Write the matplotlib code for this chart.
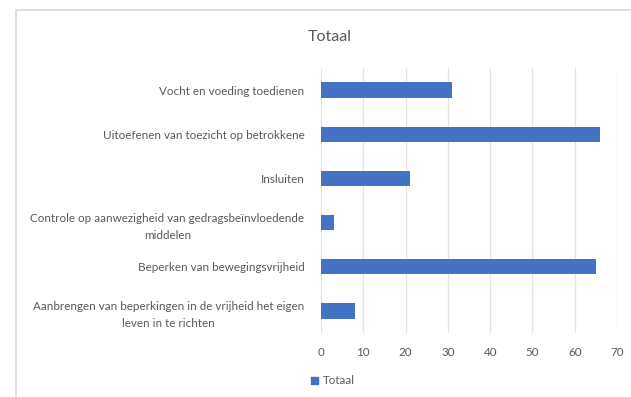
import numpy as np
import matplotlib.pyplot as plt
from matplotlib.patches import Rectangle, Patch

# data
categories = [
    "Vocht en voeding toedienen",
    "Uitoefenen van toezicht op betrokkene",
    "Insluiten",
    "Controle op aanwezigheid van gedragsbeïnvloedende\nmiddelen",
    "Beperken van bewegingsvrijheid",
    "Aanbrengen van beperkingen in de vrijheid het eigen\nleven in te richten",
]
values = [31, 66, 21, 3, 65, 8]
xticks = [0, 10, 20, 30, 40, 50, 60, 70]

plt.rcParams["font.family"] = ["Lato", "DejaVu Sans"]
txt = "#595959"
blue = "#4472C4"
grid = "#e3e3e3"

fig = plt.figure(figsize=(6.31, 3.97), dpi=100)

# chart-area frame (partly cut off at right/bottom)
fig.patches.append(Rectangle((16 / 631, -0.05), 1.2, 1 - 10 / 397 + 0.05,
                             transform=fig.transFigure, fill=False,
                             edgecolor="#d9d9d9", linewidth=1.2))

ax = fig.add_axes([321 / 631, 1 - 333 / 397, (617 - 321) / 631, (333 - 68) / 397])
y = np.arange(len(categories))
ax.barh(y, values, height=0.35, color=blue, zorder=3)
ax.set_ylim(len(categories) - 0.5, -0.5)
ax.set_xlim(0, 70)
ax.set_xticks(xticks)
ax.set_yticks(y)
ax.set_yticklabels(categories, multialignment="center", linespacing=1.7)
ax.grid(axis="x", color=grid, linewidth=0.9, zorder=0)
for s in ax.spines.values():
    s.set_visible(False)
ax.tick_params(axis="y", length=0, pad=12, labelsize=8.4, labelcolor=txt)
ax.tick_params(axis="x", length=0, pad=10, labelsize=8.4, labelcolor=txt)

fig.text(330 / 631, 1 - 37 / 397, "Totaal", ha="center", va="center",
         fontsize=11.5, color=txt)

fig.legend(handles=[Patch(color=blue, label="Totaal")], loc="center",
           bbox_to_anchor=(333 / 631, 1 - 381 / 397), frameon=False,
           fontsize=8.4, labelcolor=txt, handlelength=0.6, handleheight=0.6,
           handletextpad=0.4)

fig.savefig("out.png", dpi=100, facecolor="white")
